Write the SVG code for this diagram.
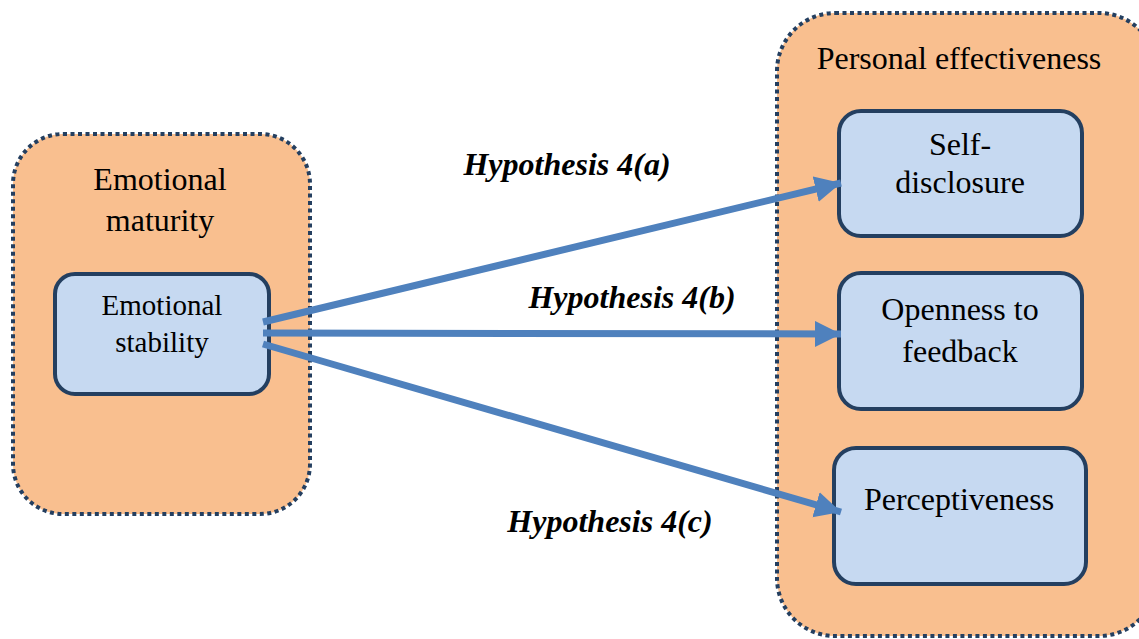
<svg xmlns="http://www.w3.org/2000/svg" width="1139" height="639" viewBox="0 0 1139 639">
  <style>
    .group { fill: #F9BF8F; stroke: #243F60; stroke-width: 4; stroke-dasharray: 4 3.5; }
    .box { fill: #C6D9F1; stroke: #243F60; stroke-width: 4; }
    .t { font-family: "Liberation Serif", "Times New Roman", serif; fill: #000; text-anchor: middle; }
    .hyp { font-family: "Liberation Serif", "Times New Roman", serif; font-weight: bold; font-style: italic; font-size: 32px; fill: #000; text-anchor: middle; }
    .link { stroke: #4F81BD; stroke-width: 7; fill: none; marker-end: url(#head); }
  </style>
  <defs>
    <marker id="head" markerUnits="userSpaceOnUse" markerWidth="30" markerHeight="30" refX="26" refY="13" orient="auto">
      <path d="M0,0 L26,13 L0,26 Z" fill="#4F81BD"/>
    </marker>
  </defs>
  <rect width="1139" height="639" fill="#fff"/>

  <g id="emotional-maturity">
    <rect class="group" x="13" y="134" width="297" height="380" rx="50"/>
    <text class="t" font-size="32" x="160" y="190">Emotional</text>
    <text class="t" font-size="32" x="160" y="231">maturity</text>
  </g>

  <g id="personal-effectiveness">
    <rect class="group" x="777" y="13" width="380" height="623" rx="58"/>
    <text class="t" font-size="32" x="959" y="69">Personal effectiveness</text>
  </g>

  <g id="emotional-stability">
    <rect class="box" x="55" y="274" width="214" height="120" rx="20"/>
    <text class="t" font-size="29" x="162" y="315">Emotional</text>
    <text class="t" font-size="29" x="162" y="352">stability</text>
  </g>

  <g id="self-disclosure">
    <rect class="box" x="839" y="111" width="243" height="125" rx="22"/>
    <text class="t" font-size="32" x="960" y="155">Self-</text>
    <text class="t" font-size="32" x="960" y="193">disclosure</text>
  </g>

  <g id="openness">
    <rect class="box" x="839" y="273" width="243" height="136" rx="22"/>
    <text class="t" font-size="32" x="960" y="320">Openness to</text>
    <text class="t" font-size="32" x="960" y="362">feedback</text>
  </g>

  <g id="perceptiveness">
    <rect class="box" x="834" y="448" width="252" height="136" rx="22"/>
    <text class="t" font-size="32" x="959" y="510">Perceptiveness</text>
  </g>

  <g id="connectors">
    <line class="link" x1="263" y1="322" x2="841" y2="183"/>
    <line class="link" x1="263" y1="333" x2="841" y2="334"/>
    <line class="link" x1="263" y1="344" x2="841" y2="512"/>
  </g>

  <g id="labels">
    <text class="hyp" x="567" y="175">Hypothesis 4(a)</text>
    <text class="hyp" x="632" y="308">Hypothesis 4(b)</text>
    <text class="hyp" x="610" y="532">Hypothesis 4(c)</text>
  </g>
</svg>
